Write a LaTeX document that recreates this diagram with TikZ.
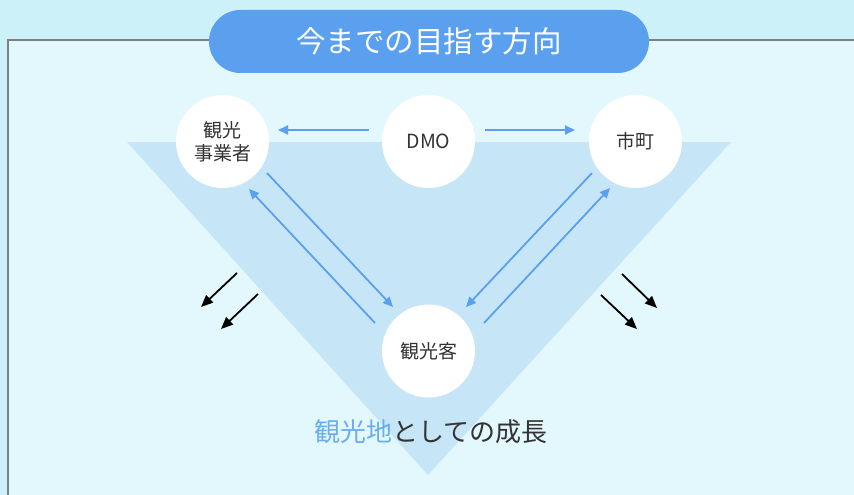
\documentclass[tikz,border=0pt]{standalone}
\usepackage{fontspec}
\setmainfont{Noto Sans CJK JP}
\usetikzlibrary{arrows.meta,calc}
\definecolor{outerbg}{HTML}{CCF1F8}
\definecolor{innerbg}{HTML}{E2F8FC}
\definecolor{tri}{HTML}{C6E6F8}
\definecolor{pill}{HTML}{5AA0EE}
\definecolor{arrowblue}{HTML}{5AA0EE}
\definecolor{txt}{HTML}{333333}
\definecolor{hl}{HTML}{6AAEF0}
\tikzset{
  actor/.style={circle,fill=white,minimum size=93pt,inner sep=0pt,align=center,text=txt,font=\fontsize{19}{23}\selectfont},
  flow/.style={draw=arrowblue,line width=1.8pt,-{Triangle[length=10pt,width=9pt]}},
  push/.style={draw=black,line width=1.8pt,-{Triangle[length=12pt,width=10pt]}}
}
\begin{document}
\begin{tikzpicture}[x=1pt,y=-1pt]
\useasboundingbox (0,0) rectangle (854,495);
\fill[outerbg] (0,0) rectangle (854,495);
\fill[innerbg] (8,40) rectangle (854,495);
\draw[gray,line width=2pt] (8,495) -- (8,40) -- (854,40);
\fill[tri] (127,142) -- (731,142) -- (428,475) -- cycle;
\node[fill=pill,rounded corners=31.5pt,minimum width=440pt,minimum height=63pt,text=white,font=\fontsize{29.5}{32}\selectfont] (title) at (429,41.5) {今までの目指す方向};
\node[actor] (biz) at (222.5,141.5) {観光\\事業者};
\node[actor,font=\fontsize{19.5}{23}\selectfont] (dmo) at (428.5,141.5) {DMO};
\node[actor] (city) at (635.5,141.5) {市町};
\node[actor] (guest) at (428.5,351) {観光客};
\coordinate (d1s) at (369,130); \coordinate (d1e) at (278,130);
\coordinate (d2s) at (485,130); \coordinate (d2e) at (575,130);
\draw[flow] (d1s) -- (d1e);
\draw[flow] (d2s) -- (d2e);
\coordinate (l1s) at (267,173); \coordinate (l1e) at (393,307);
\coordinate (l2s) at (375,323); \coordinate (l2e) at (249,189);
\coordinate (r1s) at (592,173); \coordinate (r1e) at (466,307);
\coordinate (r2s) at (484,323); \coordinate (r2e) at (610,188);
\draw[flow] (l1s) -- (l1e);
\draw[flow] (l2s) -- (l2e);
\draw[flow] (r1s) -- (r1e);
\draw[flow] (r2s) -- (r2e);
\coordinate (b1s) at (237,273); \coordinate (b1e) at (201,307);
\coordinate (b2s) at (258,294); \coordinate (b2e) at (221,329);
\coordinate (b3s) at (622,274); \coordinate (b3e) at (657,308);
\coordinate (b4s) at (601,295); \coordinate (b4e) at (637,329);
\draw[push] (b1s) -- (b1e);
\draw[push] (b2s) -- (b2e);
\draw[push] (b3s) -- (b3e);
\draw[push] (b4s) -- (b4e);
\node[font=\fontsize{26}{30}\selectfont,text=txt] (growth) at (431,432) {\textcolor{hl}{観光地}としての成長};
\end{tikzpicture}
\end{document}
